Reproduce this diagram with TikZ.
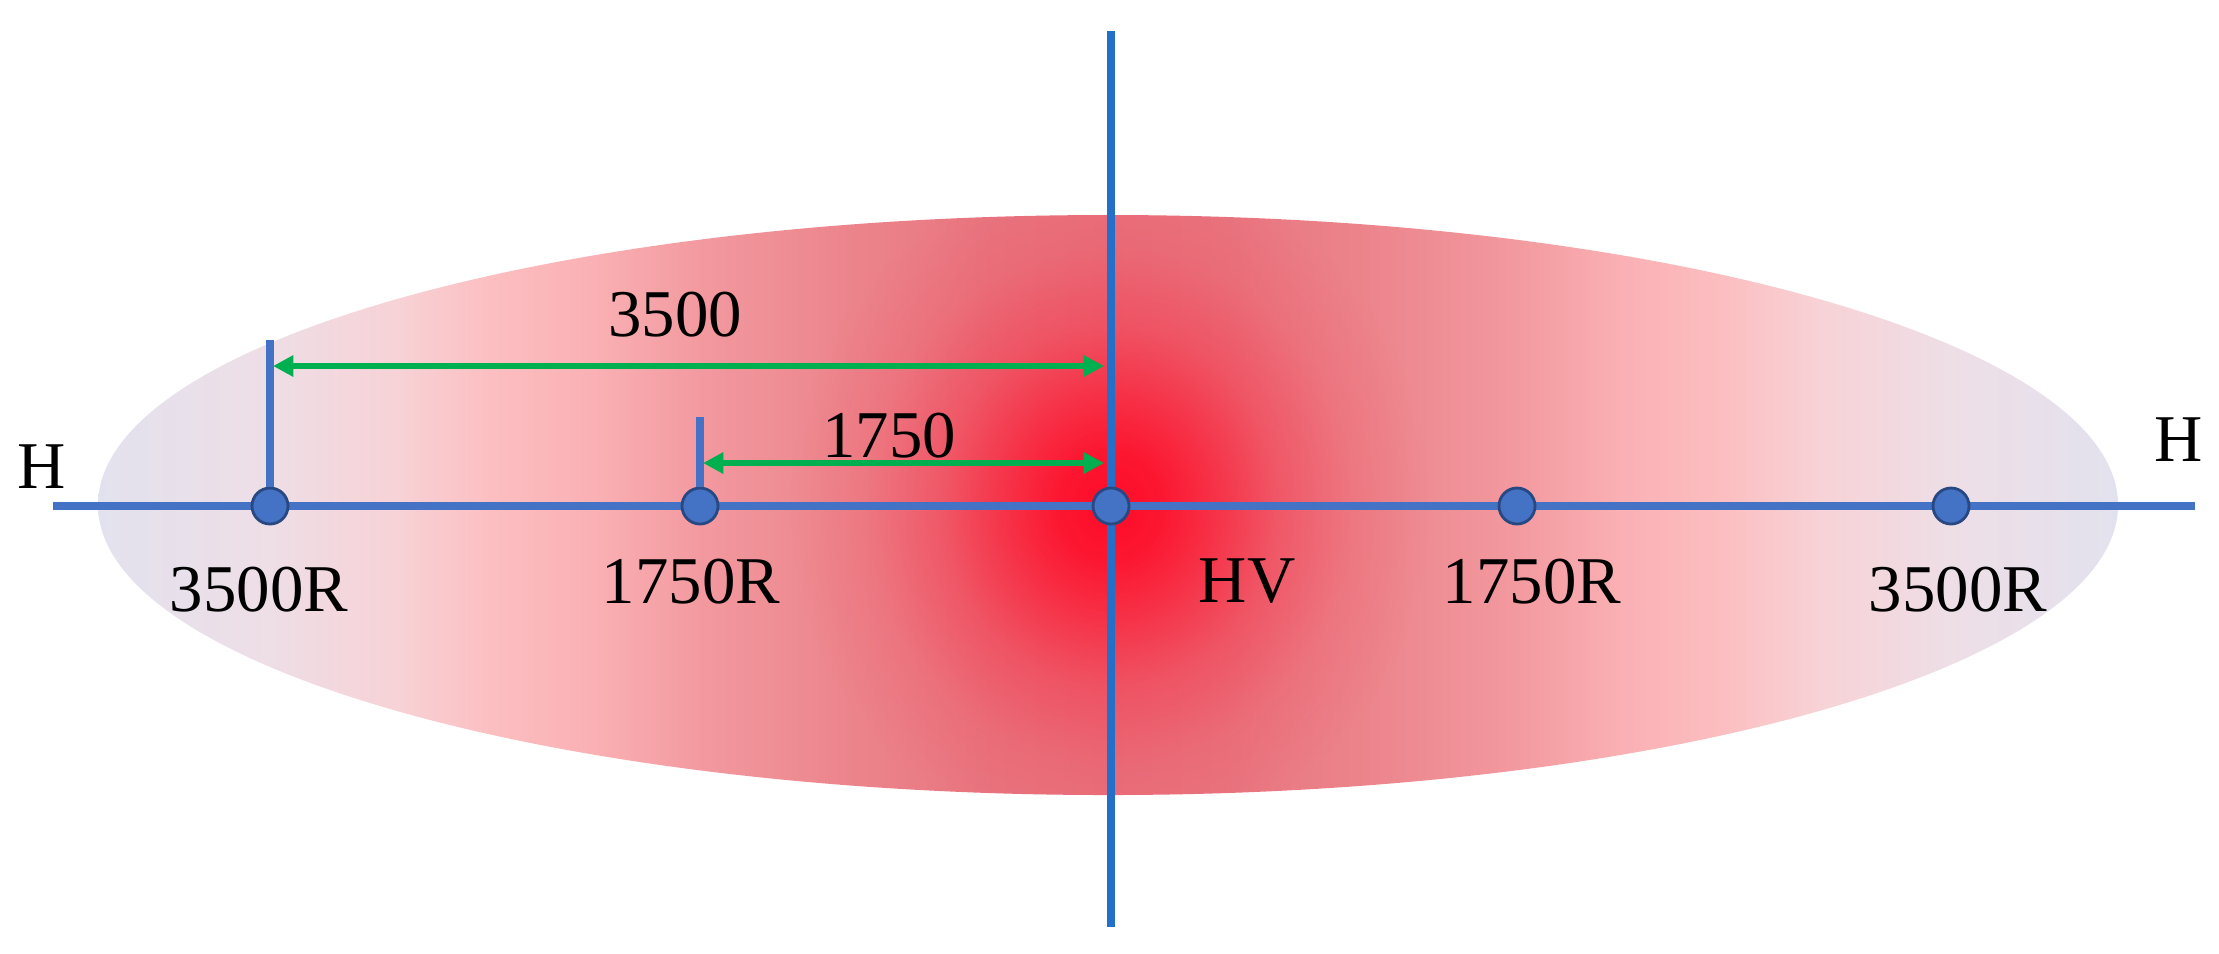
\documentclass[tikz,border=0pt]{standalone}
\usepackage{fontspec}
\setmainfont{Liberation Serif}
\usetikzlibrary{arrows.meta,fadings}

\definecolor{hblue}{RGB}{68,114,196}
\definecolor{vblue}{RGB}{36,112,200}
\definecolor{dotedge}{RGB}{40,72,130}
\definecolor{dimgreen}{RGB}{0,176,80}
\definecolor{hotred}{RGB}{255,12,40}
\definecolor{cA}{RGB}{226,226,238}
\definecolor{cB}{RGB}{238,222,230}
\definecolor{cC}{RGB}{247,210,214}
\definecolor{cD}{RGB}{252,190,192}
\definecolor{cE}{RGB}{250,176,180}
\definecolor{cF}{RGB}{242,152,158}
\definecolor{cG}{RGB}{236,132,140}
\definecolor{cH}{RGB}{232,118,128}
\definecolor{cI}{RGB}{232,114,126}

\pgfdeclarehorizontalshading{ellshade}{100bp}{color(0bp)=(cA); color(25bp)=(cA); color(29.2bp)=(cB); color(32.4bp)=(cC); color(34.8bp)=(cD); color(37.3bp)=(cE); color(40.1bp)=(cF); color(43.6bp)=(cG); color(47.1bp)=(cH); color(50bp)=(cI); color(52.9bp)=(cH); color(56.4bp)=(cG); color(59.9bp)=(cF); color(62.7bp)=(cE); color(65.2bp)=(cD); color(67.6bp)=(cC); color(70.8bp)=(cB); color(75bp)=(cA); color(100bp)=(cA)}

\pgfdeclareradialshading{spotsh}{\pgfpointorigin}{color(0bp)=(white); color(4bp)=(white!90!black); color(8bp)=(white!65!black); color(13bp)=(white!32!black); color(19bp)=(white!9!black); color(25bp)=(black); color(50bp)=(black)}
\pgfdeclarefading{spot}{\pgfuseshading{spotsh}}

\tikzset{
  hline/.style={draw=hblue, line width=2.1pt},
  vline/.style={draw=vblue, line width=2.2pt},
  tickline/.style={draw=hblue, line width=2pt},
  dimarrow/.style={draw=dimgreen, line width=1.8pt, {Triangle[length=5.8pt,width=5.8pt]}-{Triangle[length=5.8pt,width=5.8pt]}},
  dot/.style={circle, fill=hblue, draw=dotedge, line width=0.8pt, minimum size=0.36cm, inner sep=0pt},
  lbl/.style={font=\fontsize{19}{22}\selectfont, inner sep=0pt, anchor=base, text=black}
}

\begin{document}
\begin{tikzpicture}[x=0.01cm, y=-0.01cm]
\useasboundingbox (0,0) rectangle (2219,953);

% shaded ellipse
\begin{scope}
  \clip (1108,505) ellipse (1010 and 290);
  \shade[shading=ellshade] (98,215) rectangle (2118,795);
  \fill[hotred, path fading=spot, fit fading=true] (1110,506) ellipse (320 and 340);
\end{scope}

% axes
\coordinate (hl) at (53,506);
\coordinate (hr) at (2195,506);
\coordinate (vt) at (1111,31);
\coordinate (vb) at (1111,927);
\draw[hline] (hl) -- (hr);
\draw[vline] (vt) -- (vb);

% dots
\node[dot] (d1) at (270,506) {};
\node[dot] (d2) at (700,506) {};
\node[dot] (d0) at (1111,506) {};
\node[dot] (d3) at (1517,506) {};
\node[dot] (d4) at (1951,506) {};

% ticks
\coordinate (t1) at (270,340);
\coordinate (t2) at (700,417);
\draw[tickline] (t1) -- (d1);
\draw[tickline] (t2) -- (d2);

% dimension arrows
\coordinate (a1s) at (273,366);
\coordinate (a1e) at (1104,366);
\coordinate (a2s) at (703,463);
\coordinate (a2e) at (1104,463);
\draw[dimarrow] (a1s) -- (a1e);
\draw[dimarrow] (a2s) -- (a2e);

% labels
\node[lbl] (l3500) at (675,336) {3500};
\node[lbl] (l1750) at (889,457) {1750};
\node[lbl] (hL) at (42,488) {H};
\node[lbl] (hR) at (2179,461) {H};
\node[lbl] (r1) at (259,611) {3500R};
\node[lbl] (r2) at (691,603) {1750R};
\node[lbl] (hv) at (1247,602) {HV};
\node[lbl] (r3) at (1532,603) {1750R};
\node[lbl] (r4) at (1958,611) {3500R};
\end{tikzpicture}
\end{document}
